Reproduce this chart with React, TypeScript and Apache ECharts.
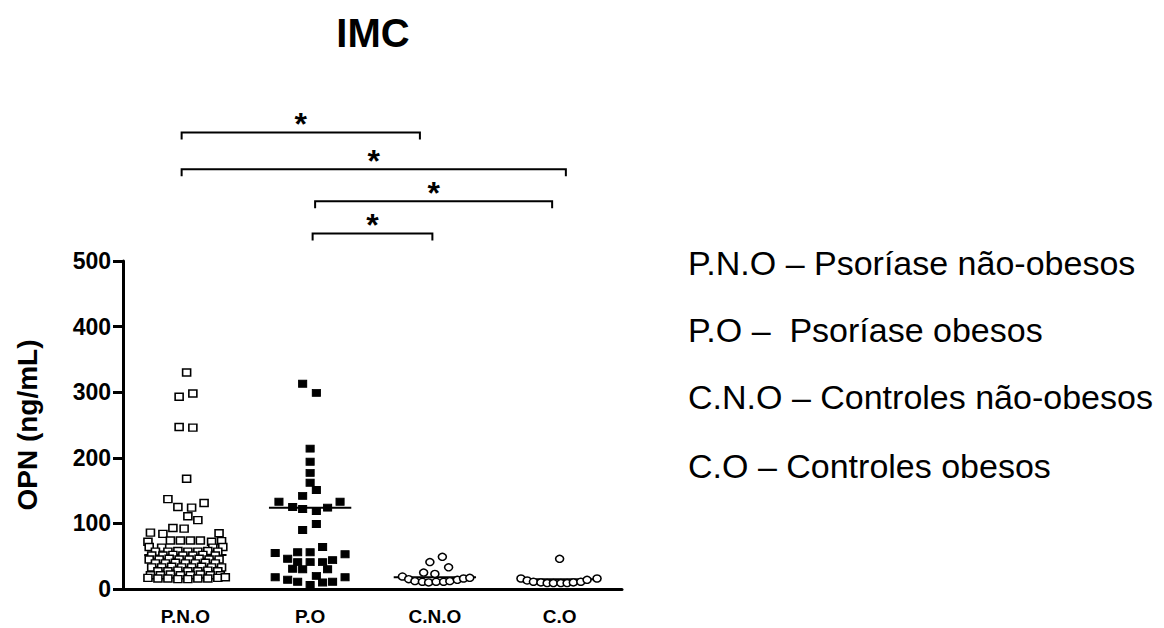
import React, { useEffect, useRef } from "react";
import * as echarts from "echarts";

const FONT = "'Liberation Sans', Arial, Helvetica, sans-serif";

const categories = ["P.N.O", "P.O", "C.N.O", "C.O"];
const yTicks = { min: 0, max: 500, interval: 100 };

// [offset from category centre (category units), OPN value]
const pnoPoints: [number, number][] = [
  [0.01, 330], [-0.05, 293], [0.06, 298], [-0.05, 247], [0.06, 246], [0.01, 168],
  [-0.14, 137], [-0.06, 125], [0.05, 124], [0.15, 131], [0.02, 111], [0.1, 105],
  [-0.1, 93], [-0.01, 92], [-0.28, 86], [-0.18, 84], [0.27, 85],
  [-0.3, 72], [-0.12, 74], [-0.04, 74], [0.04, 74], [0.12, 74], [0.21, 72], [0.29, 73],
  [-0.29, 64], [-0.19, 63], [0.22, 63], [0.3, 64],
  [-0.24, 57], [-0.14, 57], [-0.06, 58], [0.02, 57], [0.1, 57], [0.18, 58], [0.26, 57],
  [-0.27, 51], [-0.18, 51], [-0.1, 52], [-0.02, 51], [0.06, 51], [0.14, 52], [0.24, 51],
  [-0.29, 45], [-0.21, 45], [-0.13, 46], [-0.05, 45], [0.03, 45], [0.11, 46], [0.19, 45], [0.27, 45],
  [-0.24, 39], [-0.16, 39], [-0.08, 40], [0, 39], [0.08, 39], [0.16, 40], [0.24, 39],
  [-0.27, 33], [-0.19, 33], [-0.11, 34], [-0.03, 33], [0.05, 33], [0.13, 34], [0.21, 33], [0.29, 33],
  [-0.22, 27], [-0.14, 27], [-0.06, 28], [0.02, 27], [0.1, 27], [0.18, 28], [0.26, 27],
  [-0.28, 21], [-0.2, 21], [-0.12, 22], [-0.04, 21], [0.04, 21], [0.12, 22], [0.2, 21], [0.28, 21],
  [-0.3, 17], [-0.22, 16], [-0.14, 16], [-0.06, 15], [0.02, 15], [0.1, 16], [0.18, 16], [0.26, 17], [0.32, 18],
];

const poPoints: [number, number][] = [
  [-0.06, 313], [0.05, 299], [0, 214], [0, 194], [0, 177], [0, 162], [0.05, 151], [-0.06, 142],
  [-0.25, 133], [-0.14, 125], [-0.06, 122], [0.05, 119], [0.14, 124], [0.24, 133],
  [0.05, 99], [-0.06, 90], [0.1, 64], [-0.28, 55], [-0.1, 56], [0, 56], [0.28, 53],
  [-0.18, 46], [0.18, 44], [-0.1, 41], [0, 41], [0.1, 41], [-0.14, 31], [-0.06, 30], [0.14, 30],
  [-0.28, 18], [-0.18, 14], [-0.1, 11], [0, 6], [0.1, 10], [0.18, 11], [0.28, 18], [0.05, 20],
];

const cnoPoints: [number, number][] = [
  [0.06, 49], [-0.04, 41], [0.11, 33], [-0.09, 25], [0, 23],
  [-0.26, 19], [-0.21, 15], [-0.16, 12], [-0.1, 11], [-0.05, 10], [0.01, 11], [0.07, 11],
  [0.12, 12], [0.18, 14], [0.23, 16], [0.28, 17],
];

const coPoints: [number, number][] = [
  [0, 46], [-0.31, 16], [-0.26, 13], [-0.21, 11], [-0.15, 10], [-0.1, 9], [-0.05, 9],
  [0.01, 9], [0.06, 9], [0.11, 10], [0.17, 11], [0.22, 14], [0.3, 16],
];

const medians = [52, 124, 18, 15];

// [from x, to x, height] in category units / OPN units
const brackets: [number, number, number][] = [
  [-0.03, 1.88, 696],
  [-0.03, 3.05, 640],
  [1.04, 2.94, 591],
  [1.02, 1.98, 542],
];
const bracketLabel = "*";

const legendLines = [
  "P.N.O – Psoríase não-obesos",
  "P.O –  Psoríase obesos",
  "C.N.O – Controles não-obesos",
  "C.O – Controles obesos",
];

const place = (pts: [number, number][], idx: number) => pts.map(([o, v]) => [idx + o, v]);

export default function App() {
  const ref = useRef<HTMLDivElement>(null);
  useEffect(() => {
    if (!ref.current) return;
    const chart = echarts.init(ref.current, null, { renderer: "svg" });
    const openSquare = {
      type: "scatter", xAxisIndex: 1, yAxisIndex: 0, symbol: "rect", symbolSize: [8, 7],
      itemStyle: { color: "#fff", borderColor: "#000", borderWidth: 1.5, opacity: 1 },
      z: 3,
    };
    const openCircle = {
      type: "scatter", xAxisIndex: 1, yAxisIndex: 0, symbol: "circle", symbolSize: [8, 7],
      itemStyle: { color: "#fff", borderColor: "#000", borderWidth: 1.5, opacity: 1 },
      z: 3,
    };
    chart.setOption({
      animation: false,
      backgroundColor: "#fff",
      textStyle: { fontFamily: FONT },
      grid: { left: 123, right: 542, top: 261, bottom: 39 },
      xAxis: [
        {
          type: "category", data: categories, boundaryGap: true,
          axisLine: { lineStyle: { color: "#000", width: 3 } },
          axisTick: { alignWithLabel: true, length: 8, lineStyle: { color: "#000", width: 3 } },
          axisLabel: { color: "#000", fontSize: 19, fontWeight: "bold", margin: 18, fontFamily: FONT },
          splitLine: { show: false },
        },
        { type: "value", min: -0.5, max: 3.5, show: false, splitLine: { show: false } },
      ],
      yAxis: {
        type: "value", min: yTicks.min, max: yTicks.max, interval: yTicks.interval,
        name: "OPN (ng/mL)", nameLocation: "middle", nameGap: 82, nameRotate: 90,
        nameTextStyle: { color: "#000", fontSize: 28, fontWeight: "bold", fontFamily: FONT },
        axisLine: { show: true, onZero: false, lineStyle: { color: "#000", width: 3 } },
        axisTick: { show: true, length: 10, lineStyle: { color: "#000", width: 3 } },
        axisLabel: { color: "#000", fontSize: 23, fontWeight: "bold", margin: 12, fontFamily: FONT },
        splitLine: { show: false },
      },
      graphic: [
        {
          type: "text", x: 373, y: 33,
          style: { text: "IMC", font: `900 40px ${FONT}`, fill: "#000", align: "center", verticalAlign: "middle" },
        },
        ...legendLines.map((t, i) => ({
          type: "text", x: 688, y: [263, 330, 397, 466][i],
          style: { text: t, font: `34px ${FONT}`, fill: "#000", align: "left", verticalAlign: "middle" },
        })),
      ],
      series: [
        {
          type: "custom", xAxisIndex: 1, yAxisIndex: 0, clip: false, z: 2,
          data: medians.map((m, i) => [i, m]),
          encode: { x: 0, y: 1 },
          renderItem: (_p: any, api: any) => {
            const c = api.value(0), m = api.value(1);
            const a = api.coord([c - 0.33, m]);
            const b = api.coord([c + 0.33, m]);
            return { type: "line", shape: { x1: a[0], y1: a[1], x2: b[0], y2: b[1] }, style: { stroke: "#000", lineWidth: 2 } };
          },
        },
        { ...openSquare, name: "P.N.O", data: place(pnoPoints, 0) },
        {
          type: "scatter", xAxisIndex: 1, yAxisIndex: 0, name: "P.O", symbol: "rect", symbolSize: [8, 7],
          itemStyle: { color: "#000", borderColor: "#000", borderWidth: 1, opacity: 1 }, z: 3,
          data: place(poPoints, 1),
        },
        { ...openCircle, name: "C.N.O", data: place(cnoPoints, 2) },
        { ...openCircle, name: "C.O", data: place(coPoints, 3) },
        {
          type: "custom", xAxisIndex: 1, yAxisIndex: 0, clip: false, z: 4,
          data: brackets,
          encode: { x: [0, 1], y: 2 },
          renderItem: (_p: any, api: any) => {
            const x1 = api.value(0), x2 = api.value(1), h = api.value(2);
            const a = api.coord([x1, h]);
            const b = api.coord([x2, h]);
            return {
              type: "group",
              children: [
                {
                  type: "polyline",
                  shape: { points: [[a[0], a[1] + 7], [a[0], a[1]], [b[0], b[1]], [b[0], b[1] + 7]] },
                  style: { stroke: "#000", lineWidth: 2, fill: "none" },
                },
                {
                  type: "text", x: (a[0] + b[0]) / 2, y: a[1] - 8,
                  style: { text: bracketLabel, font: `bold 32px ${FONT}`, fill: "#000", align: "center", verticalAlign: "middle" },
                },
              ],
            };
          },
        },
      ],
    });
    return () => chart.dispose();
  }, []);
  return <div ref={ref} style={{ position: "fixed", left: 0, top: 0, width: 1164, height: 628 }} />;
}
